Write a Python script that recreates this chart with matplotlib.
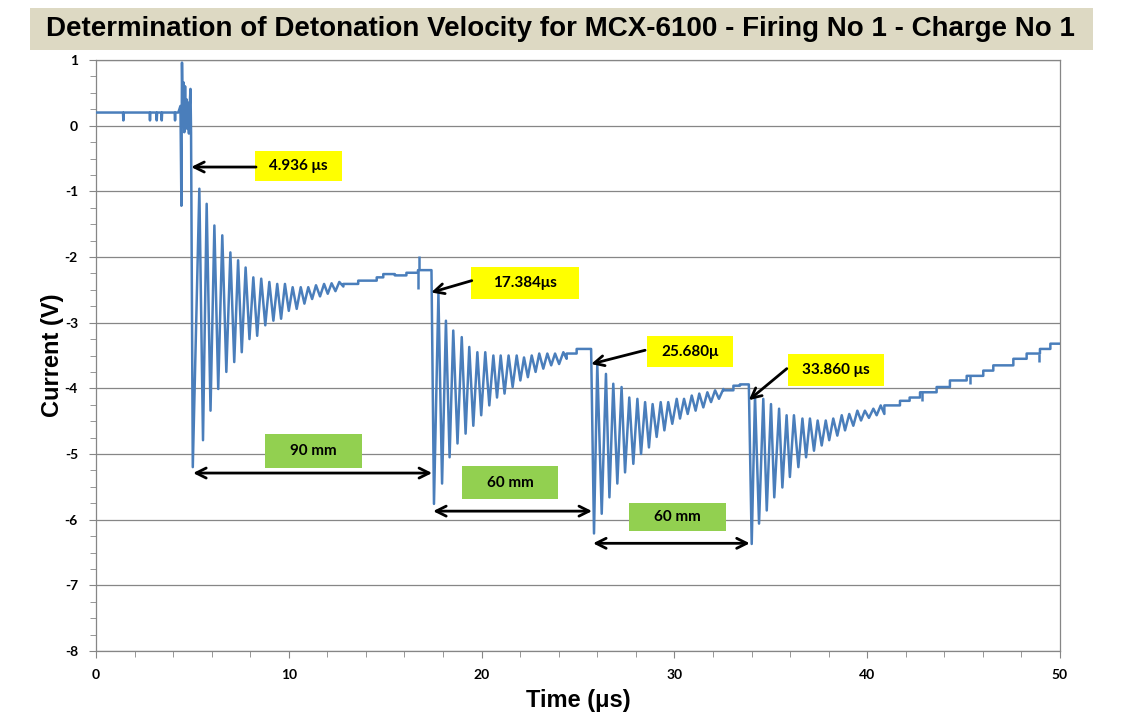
import numpy as np
import matplotlib

matplotlib.use("Agg")
import matplotlib.pyplot as plt
from matplotlib.patches import Rectangle
from matplotlib.ticker import MultipleLocator

plt.rcParams["axes.unicode_minus"] = False

# --- data (time in us, current in V) ---

# pre-trigger baseline with a few dips, then the noise burst at ignition
pre_t = [0.00, 1.40, 1.42, 1.44, 2.78, 2.80, 2.82, 3.13, 3.15, 3.17, 3.39, 3.41, 3.43,
         4.08, 4.10, 4.12, 4.27, 4.38, 4.43, 4.46, 4.50, 4.54, 4.58, 4.62, 4.66, 4.70,
         4.74, 4.78, 4.82, 4.86, 4.90, 4.93]
pre_v = [0.20, 0.20, 0.08, 0.20, 0.20, 0.08, 0.20, 0.20, 0.08, 0.20, 0.20, 0.08, 0.20,
         0.20, 0.08, 0.20, 0.20, 0.30, -1.22, 0.96, 0.05, 0.66, -0.10, 0.60, 0.00, 0.40,
         -0.05, 0.35, -0.12, 0.30, 0.56, -0.10]

# ringing after each probe (alternating trough / peak vertices)
seg1_t = [5.02, 5.36, 5.55, 5.74, 5.94, 6.14, 6.34, 6.55, 6.76, 6.97, 7.17, 7.37, 7.56,
          7.76, 7.96, 8.16, 8.36, 8.57, 8.78, 8.99, 9.20, 9.40, 9.60, 9.80, 10.00, 10.20,
          10.41, 10.62, 10.81, 11.01, 11.21, 11.41, 11.62, 11.83, 12.02, 12.22, 12.42,
          12.62, 12.83]
seg1_v = [-5.20, -0.96, -4.79, -1.19, -4.34, -1.52, -4.01, -1.67, -3.75, -1.93, -3.60,
          -2.05, -3.45, -2.16, -3.25, -2.31, -3.20, -2.33, -3.04, -2.38, -2.97, -2.41,
          -2.94, -2.41, -2.82, -2.46, -2.79, -2.46, -2.71, -2.46, -2.64, -2.43, -2.60,
          -2.41, -2.56, -2.40, -2.52, -2.38, -2.45]

seg2_t = [17.53, 17.76, 17.95, 18.15, 18.34, 18.53, 18.75, 18.97, 19.17, 19.36, 19.57,
          19.78, 19.98, 20.19, 20.40, 20.61, 20.80, 20.99, 21.19, 21.40, 21.61, 21.82,
          22.01, 22.20, 22.40, 22.60, 22.80, 22.99, 23.20, 23.41, 23.61, 23.81, 24.02,
          24.24, 24.41]
seg2_v = [-5.76, -2.56, -5.45, -2.97, -5.05, -3.12, -4.84, -3.22, -4.69, -3.37, -4.57,
          -3.45, -4.41, -3.45, -4.26, -3.50, -4.14, -3.50, -4.08, -3.50, -3.98, -3.50,
          -3.88, -3.53, -3.83, -3.50, -3.75, -3.47, -3.70, -3.47, -3.65, -3.47, -3.63,
          -3.45, -3.55]

seg3_t = [25.83, 26.00, 26.23, 26.45, 26.63, 26.83, 27.04, 27.26, 27.44, 27.66, 27.87,
          28.08, 28.27, 28.48, 28.68, 28.87, 29.08, 29.29, 29.48, 29.68, 29.89, 30.12,
          30.29, 30.50, 30.69, 30.90, 31.10, 31.29, 31.50, 31.71, 31.90, 32.11, 32.31,
          32.54]
seg3_v = [-6.21, -3.63, -5.91, -3.78, -5.66, -3.93, -5.45, -3.98, -5.28, -4.14, -5.15,
          -4.16, -5.00, -4.21, -4.90, -4.24, -4.74, -4.21, -4.64, -4.21, -4.54, -4.16,
          -4.46, -4.16, -4.39, -4.11, -4.34, -4.08, -4.29, -4.06, -4.21, -4.03, -4.16,
          -4.01]

seg4_t = [34.01, 34.18, 34.39, 34.61, 34.79, 35.01, 35.18, 35.43, 35.60, 35.82, 35.99,
          36.20, 36.43, 36.64, 36.83, 37.03, 37.24, 37.43, 37.64, 37.85, 38.03, 38.24,
          38.45, 38.68, 38.85, 39.07, 39.28, 39.49, 39.68, 39.88, 40.09, 40.32, 40.49,
          40.70, 40.89]
seg4_v = [-6.37, -4.11, -6.06, -4.16, -5.86, -4.24, -5.66, -4.31, -5.51, -4.41, -5.35,
          -4.41, -5.20, -4.46, -5.05, -4.46, -4.95, -4.49, -4.87, -4.49, -4.79, -4.46,
          -4.72, -4.41, -4.64, -4.39, -4.57, -4.34, -4.49, -4.34, -4.45, -4.31, -4.41,
          -4.26, -4.39]

# quantised plateaus between probes (level change times, levels)
plat1_t = [12.83, 13.60, 14.56, 14.90, 15.50, 16.10, 16.70, 17.40]
plat1_v = [-2.41, -2.36, -2.31, -2.26, -2.28, -2.24, -2.20]
plat2_t = [24.41, 24.93, 25.68]
plat2_v = [-3.47, -3.40]
plat3_t = [32.54, 33.06, 33.40, 33.86]
plat3_v = [-4.03, -3.96, -3.94]
plat4_t = [40.89, 41.70, 42.20, 42.74, 43.60, 44.29, 45.16, 46.02, 46.54, 47.58,
           48.27, 48.96, 49.50, 50.00]
plat4_v = [-4.26, -4.19, -4.14, -4.06, -3.98, -3.88, -3.81, -3.73, -3.65, -3.55,
           -3.47, -3.40, -3.32]

# single-sample glitches on the plateaus
spike_t = [16.72, 16.77, 42.83, 45.33, 48.93]
spike_v = [-2.49, -1.98, -4.19, -3.93, -3.60]

# annotations
arrival_us = [4.936, 17.384, 25.680, 33.860]
arrival_labels = ["4.936 \u03bcs", "17.384\u03bcs", "25.680\u03bc", "33.860 \u03bcs"]
spacing_labels = ["90 mm", "60 mm", "60 mm"]


def steps(edges, levels):
    xs, ys = [], []
    for i, lv in enumerate(levels):
        xs += [edges[i], edges[i + 1]]
        ys += [lv, lv]
    return xs, ys


p1 = steps(plat1_t, plat1_v)
p2 = steps(plat2_t, plat2_v)
p3 = steps(plat3_t, plat3_v)
p4 = steps(plat4_t, plat4_v)

trace_t = np.array(pre_t + seg1_t + p1[0] + seg2_t + p2[0] + seg3_t + p3[0] + seg4_t + p4[0])
trace_v = np.array(pre_v + seg1_v + p1[1] + seg2_v + p2[1] + seg3_v + p3[1] + seg4_v + p4[1])

all_edges = [plat1_t, plat4_t]
all_levels = [plat1_v, plat4_v]


def level_at(t):
    for e, l in zip(all_edges, all_levels):
        if e[0] <= t <= e[-1]:
            return l[np.searchsorted(e, t) - 1]
    return t


line_color = "#4A7EBB"
grid_color = "#868686"

fig = plt.figure(figsize=(11.26, 7.19), dpi=100)
ax = fig.add_axes([96 / 1126, 1 - 651 / 719, 964 / 1126, 591 / 719])

# title band
fig.patches.append(Rectangle((30 / 1126, 1 - 50 / 719), 1063 / 1126, 42 / 719,
                             transform=fig.transFigure, facecolor="#DDD9C3",
                             edgecolor="none", zorder=0))
fig.text(560 / 1126, 1 - 29 / 719,
         "Determination of Detonation Velocity for MCX-6100 - Firing No 1 - Charge No 1",
         ha="center", va="center", fontsize=20, fontweight="bold",
         family="Liberation Sans")

ax.plot(trace_t, trace_v, color=line_color, lw=1.8, zorder=3)
ax.vlines(spike_t, [level_at(t) for t in spike_t], spike_v, color=line_color,
          lw=1.8, zorder=3)

ax.set_xlim(0, 50)
ax.set_ylim(-8, 1)
ax.xaxis.set_major_locator(MultipleLocator(10))
ax.xaxis.set_minor_locator(MultipleLocator(2))
ax.yaxis.set_major_locator(MultipleLocator(1))
ax.yaxis.set_minor_locator(MultipleLocator(0.25))
ax.tick_params(which="both", direction="out", color=grid_color, labelsize=10)
ax.tick_params(which="major", length=5)
ax.tick_params(which="minor", length=4)
for lab in ax.get_xticklabels() + ax.get_yticklabels():
    lab.set_fontweight("bold")
    lab.set_family("Lato")
ax.tick_params(axis="x", pad=8)
ax.tick_params(axis="y", pad=8)
ax.yaxis.grid(True, color=grid_color, lw=0.9)
ax.set_axisbelow(True)
for sp in ax.spines.values():
    sp.set_color(grid_color)
    sp.set_linewidth(0.9)

fig.text(578 / 1126, 1 - 700 / 719, "Time (\u03bcs)", ha="center", va="center",
         fontsize=17, fontweight="bold", family="Liberation Sans")
fig.text(52 / 1126, 1 - 355 / 719, "Current (V)", ha="center", va="center",
         rotation=90, fontsize=17, fontweight="bold", family="Liberation Sans")

# yellow arrival-time callouts
yellow_boxes = [(8.25, -0.85, 4.51, 0.47), (19.43, -2.64, 5.64, 0.49),
                (28.56, -3.68, 4.46, 0.48), (35.91, -3.97, 4.96, 0.50)]
tails = [(8.30, -0.63), (19.49, -2.36), (28.48, -3.42), (35.83, -3.70)]
tip_v = [-0.63, -2.54, -3.63, -4.18]
for (x0, y0, w, h), tail, tv, t_arr, lab in zip(yellow_boxes, tails, tip_v,
                                                arrival_us, arrival_labels):
    ax.add_patch(Rectangle((x0, y0), w, h, facecolor="#FFFF00", edgecolor="none", zorder=4))
    ax.text(x0 + w / 2, y0 + h / 2, lab, ha="center", va="center", fontsize=11,
            fontweight="bold", family="Lato", zorder=5)
    ax.annotate("", xy=(t_arr, tv), xytext=tail,
                arrowprops=dict(arrowstyle="->", lw=2, color="black",
                                mutation_scale=18, shrinkA=0, shrinkB=0), zorder=5)

# green spacing callouts with double arrows between arrivals
green_boxes = [(8.77, -5.21, 5.01, 0.51), (18.97, -5.68, 5.01, 0.49),
               (27.66, -6.18, 5.02, 0.43)]
arrow_v = [-5.29, -5.87, -6.36]
for i, ((x0, y0, w, h), av, lab) in enumerate(zip(green_boxes, arrow_v, spacing_labels)):
    ax.add_patch(Rectangle((x0, y0), w, h, facecolor="#92D050", edgecolor="none", zorder=4))
    ax.text(x0 + w / 2, y0 + h / 2, lab, ha="center", va="center", fontsize=11,
            fontweight="bold", family="Lato", zorder=5)
    ax.annotate("", xy=(arrival_us[i + 1] + 0.05, av), xytext=(arrival_us[i] + 0.1, av),
                arrowprops=dict(arrowstyle="<->", lw=2, color="black",
                                mutation_scale=18, shrinkA=0, shrinkB=0), zorder=5)

fig.savefig("out.png", dpi=100)
